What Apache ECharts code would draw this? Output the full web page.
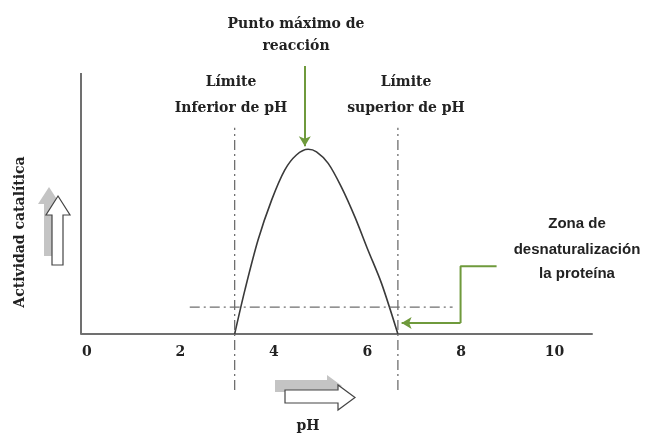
<!DOCTYPE html>
<html>
<head>
<meta charset="utf-8">
<script src="https://cdn.jsdelivr.net/npm/echarts@6/dist/echarts.min.js"></script>
<style>
  html, body { margin: 0; padding: 0; background: #fff; }
  #chart { width: 646px; height: 433px; }
</style>
</head>
<body>
<div id="chart"></div>
<script>
// pH scale and tick labels
const phTicks = [0, 2, 4, 6, 8, 10];
const phMin = -0.125;
const phMax = 10.8;

// Enzyme activity curve (pH, catalytic activity)
const curvePH = [3.16, 3.38, 3.66, 3.95, 4.23, 4.48, 4.73, 4.91, 5.16, 5.44, 5.73, 6.01, 6.30, 6.65];
const curveActivity = [0, 16.9, 36.0, 51.3, 62.8, 68.6, 70.8, 69.8, 65.4, 56.4, 44.9, 32.2, 19.4, 0];

// pH limits and reference activity level
const lowerLimitPH = 3.16;
const upperLimitPH = 6.65;
const limitSpan = [-21.5, 79];
const thresholdLevel = 10.3;
const thresholdSpan = [2.2, 7.82];

// Pointer to the maximum (pH, activity from -> to)
const peakPointerPH = 4.66;
const peakPointerSpan = [102.7, 72];

// Pointer to the denaturation zone
const denatPath = [[8.76, 26], [7.99, 26], [7.99, 4.2]];
const denatTip = [6.73, 4.2];

const serif = '"DejaVu Serif", "Liberation Serif", serif';
const sans = '"Liberation Sans", "DejaVu Sans", sans-serif';
const axisGray = '#707070';
const dashGray = '#6f6f6f';
const green = '#6f9a3c';
const textColor = '#222';

const chart = echarts.init(document.getElementById('chart'), null, { renderer: 'canvas' });

function label(text, x, y, font) {
  return {
    type: 'text',
    style: {
      text: text, x: x, y: y,
      textAlign: 'center', textVerticalAlign: 'middle',
      font: font, fill: textColor
    }
  };
}

const dashDot = [10, 4, 2, 4];
const headFont = 'bold 14px ' + serif;

chart.setOption({
  animation: false,
  backgroundColor: '#fff',
  grid: { left: 81, right: 54, top: 0, bottom: 99 },
  xAxis: {
    type: 'value',
    min: phMin,
    max: phMax,
    axisLine: { lineStyle: { color: axisGray, width: 2 } },
    axisTick: { show: false },
    splitLine: { show: false },
    axisLabel: {
      customValues: phTicks,
      margin: 11,
      color: textColor,
      fontFamily: serif,
      fontWeight: 'bold',
      fontSize: 14
    }
  },
  yAxis: {
    type: 'value',
    min: 0,
    max: 128,
    axisLine: { show: false },
    axisTick: { show: false },
    axisLabel: { show: false },
    splitLine: { show: false }
  },
  series: [
    {
      name: 'eje',
      type: 'line',
      clip: false,
      symbol: 'none',
      data: [[phMin, 0], [phMin, 100]],
      lineStyle: { color: axisGray, width: 2 }
    },
    {
      name: 'actividad',
      type: 'line',
      symbol: 'none',
      smooth: 0.3,
      data: curvePH.map((p, i) => [p, curveActivity[i]]),
      lineStyle: { color: '#3a3a3a', width: 1.6 }
    },
    {
      name: 'límite inferior',
      type: 'line',
      clip: false,
      symbol: 'none',
      data: [[lowerLimitPH, limitSpan[0]], [lowerLimitPH, limitSpan[1]]],
      lineStyle: { color: dashGray, width: 1.3, type: dashDot }
    },
    {
      name: 'límite superior',
      type: 'line',
      clip: false,
      symbol: 'none',
      data: [[upperLimitPH, limitSpan[0]], [upperLimitPH, limitSpan[1]]],
      lineStyle: { color: dashGray, width: 1.3, type: dashDot }
    },
    {
      name: 'umbral',
      type: 'line',
      symbol: 'none',
      data: [[thresholdSpan[0], thresholdLevel], [thresholdSpan[1], thresholdLevel]],
      lineStyle: { color: dashGray, width: 1.3, type: dashDot }
    },
    {
      name: 'desnaturalización',
      type: 'line',
      symbol: 'none',
      data: denatPath,
      lineStyle: { color: green, width: 2 },
      markLine: {
        silent: true,
        symbol: ['none', 'arrow'],
        symbolSize: [9, 10],
        label: { show: false },
        lineStyle: { color: green, width: 2, type: 'solid' },
        data: [
          [{ coord: denatPath[denatPath.length - 1] }, { coord: denatTip }],
          [{ coord: [peakPointerPH, peakPointerSpan[0]] }, { coord: [peakPointerPH, peakPointerSpan[1]] }]
        ]
      }
    }
  ],
  graphic: [
    // vertical direction arrow (activity increases)
    {
      type: 'polygon',
      shape: { points: [[49, 187], [60, 204], [54, 204], [54, 256], [44, 256], [44, 204], [38, 204]] },
      style: { fill: '#c4c4c4' }
    },
    {
      type: 'polygon',
      shape: { points: [[58, 196], [70, 215], [63, 215], [63, 265], [52, 265], [52, 215], [46, 215]] },
      style: { fill: '#fff', stroke: '#444', lineWidth: 1.2 }
    },
    // horizontal direction arrow (pH increases)
    {
      type: 'polygon',
      shape: { points: [[275, 380], [327, 380], [327, 375], [342, 386], [327, 397], [327, 392], [275, 392]] },
      style: { fill: '#c4c4c4' }
    },
    {
      type: 'polygon',
      shape: { points: [[285, 390], [338, 390], [338, 385], [355, 397.5], [338, 410], [338, 403], [285, 403]] },
      style: { fill: '#fff', stroke: '#444', lineWidth: 1.2 }
    },
    label('Punto máximo de', 296, 24, headFont),
    label('reacción', 296, 46, headFont),
    label('Límite', 231, 82, headFont),
    label('Inferior de pH', 231, 108, headFont),
    label('Límite', 406, 82, headFont),
    label('superior de pH', 406, 108, headFont),
    label('Zona de', 577, 224, 'bold 15px ' + sans),
    label('desnaturalización', 577, 250, 'bold 15px ' + sans),
    label('la proteína', 577, 274, 'bold 15px ' + sans),
    label('pH', 308, 426, headFont),
    {
      type: 'text',
      x: 20, y: 232,
      rotation: Math.PI / 2,
      style: {
        text: 'Actividad catalítica',
        x: 0, y: 0,
        textAlign: 'center', textVerticalAlign: 'middle',
        font: 'bold 14px ' + serif, fill: textColor
      }
    }
  ]
});
</script>
</body>
</html>
